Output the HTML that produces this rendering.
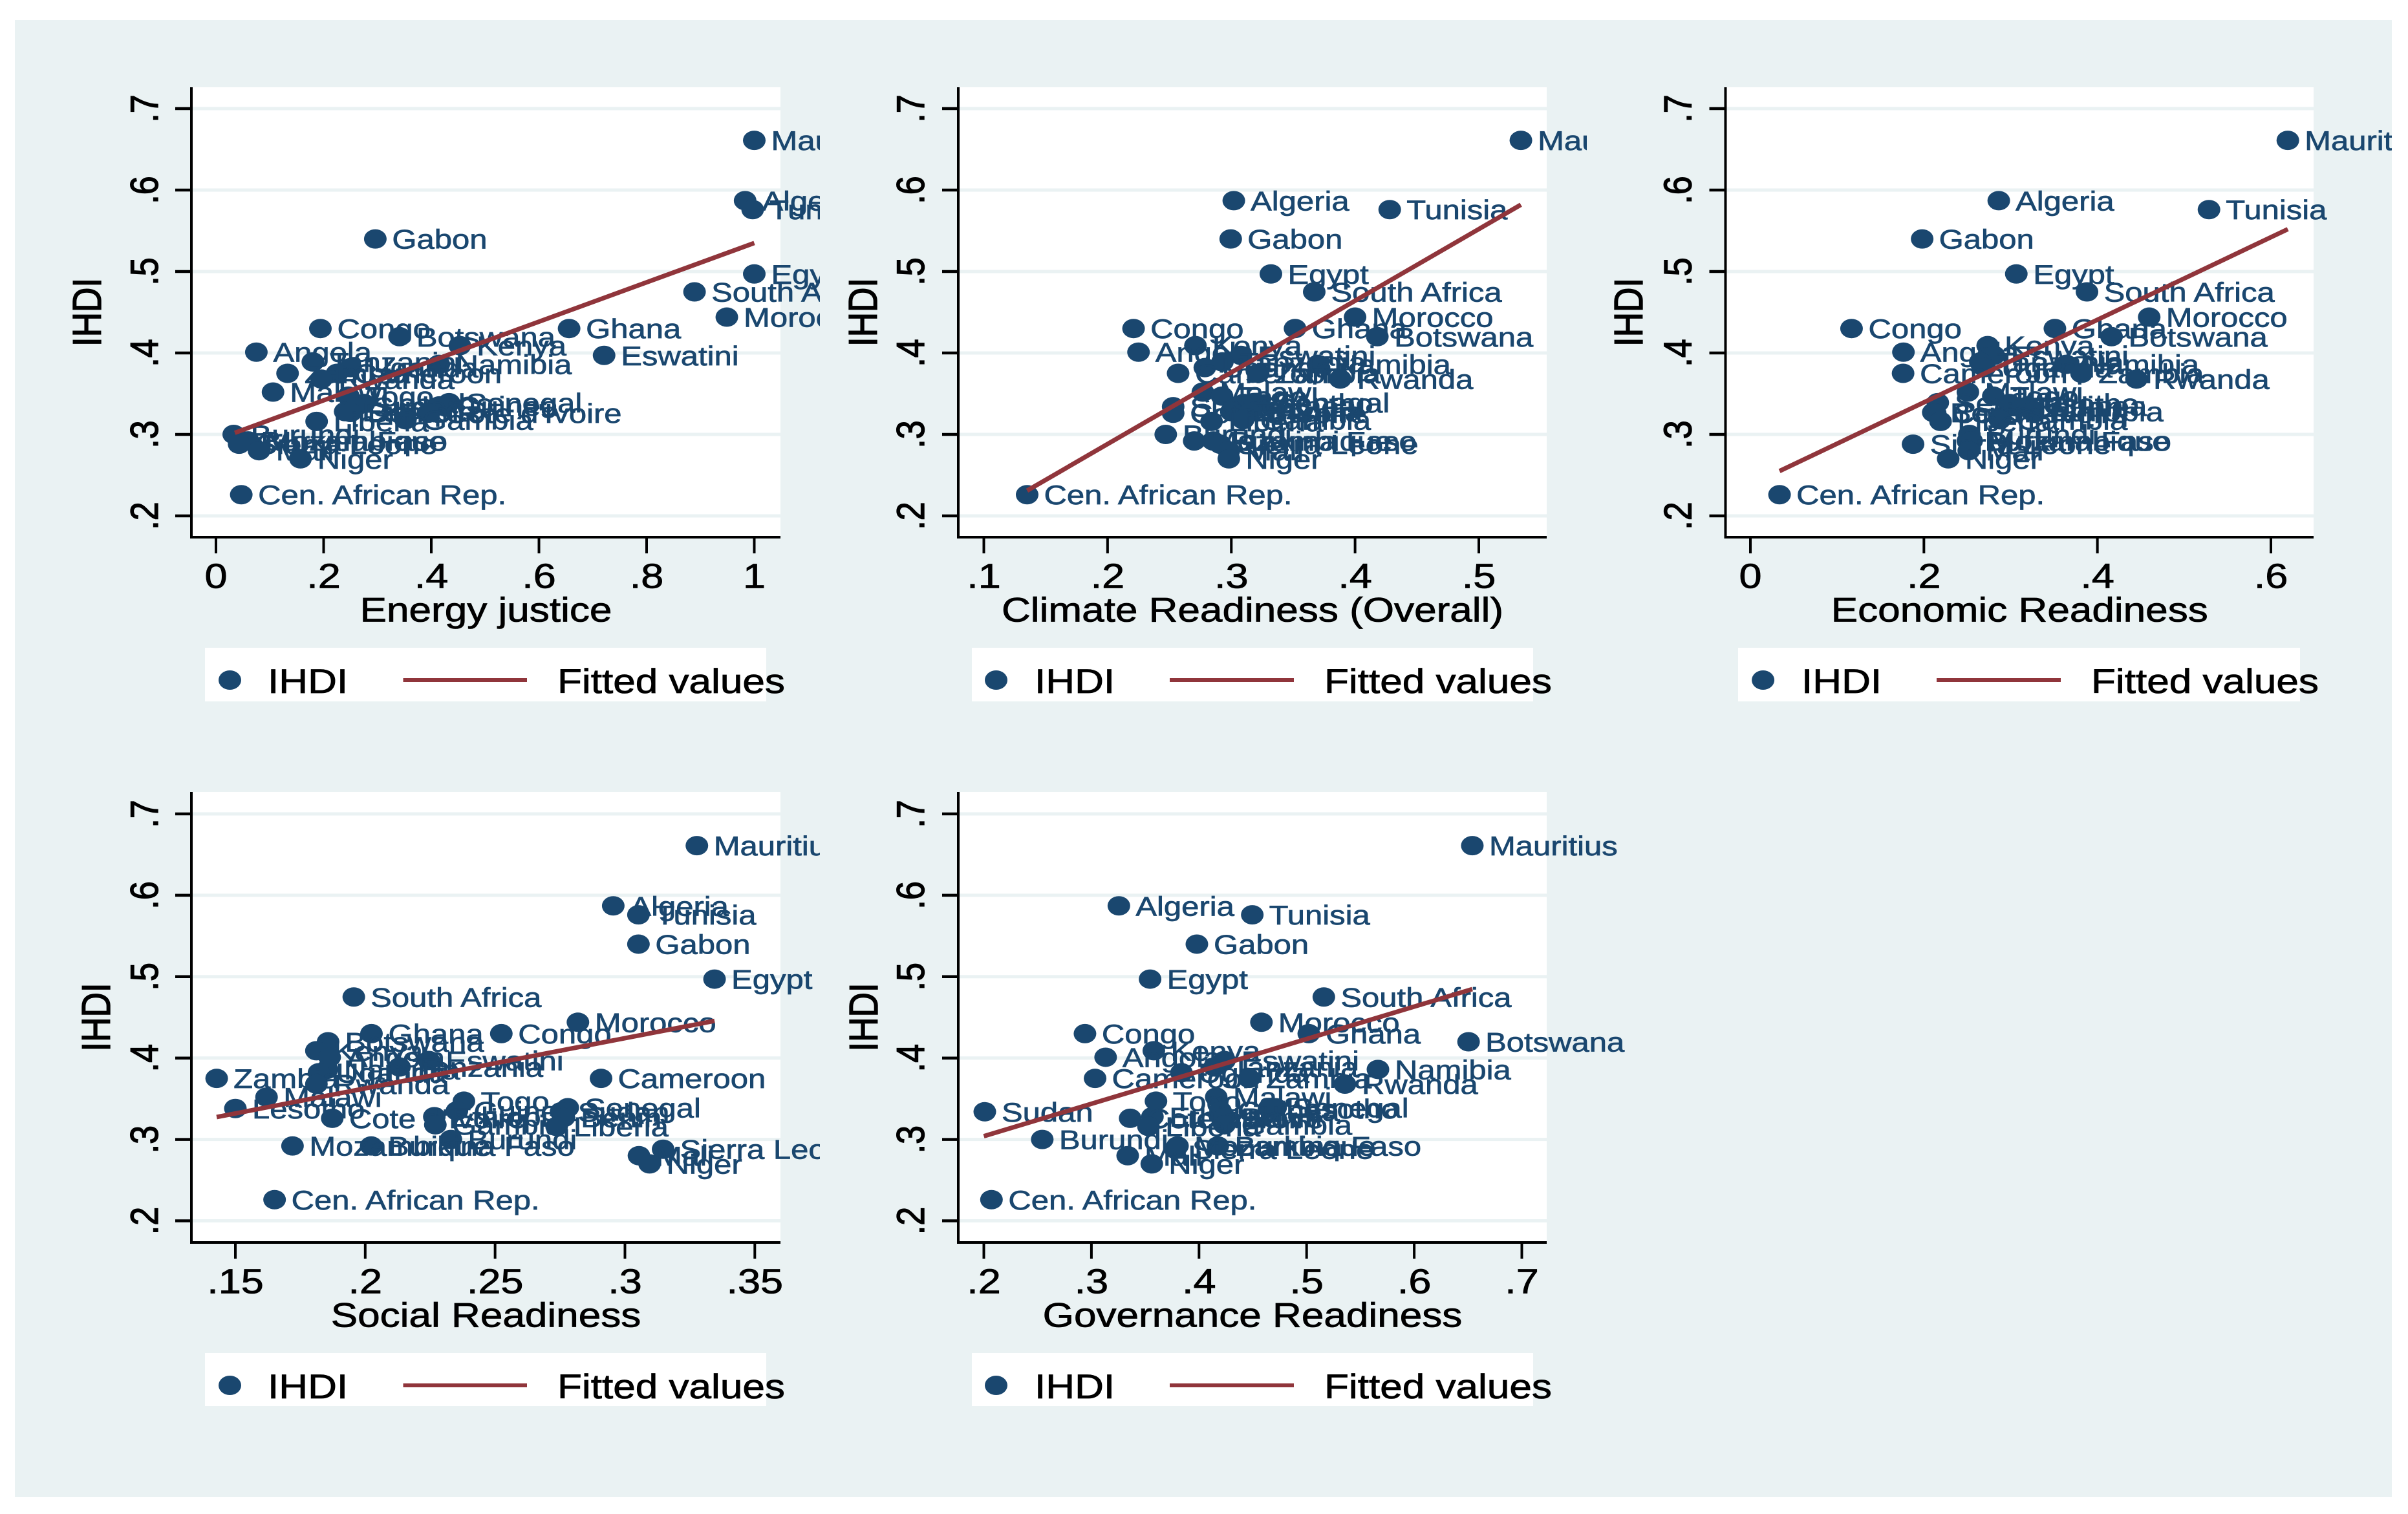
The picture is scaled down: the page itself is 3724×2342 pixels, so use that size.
<!DOCTYPE html>
<html lang="en">
<head>
<meta charset="utf-8">
<title>IHDI scatter panels</title>
<style>
html,body{margin:0;padding:0;background:#fff;}
#chart{display:block;width:3724px;height:2342px;}
text{font-family:"Liberation Sans",sans-serif;}
</style>
</head>
<body>
<svg id="chart" xmlns="http://www.w3.org/2000/svg" width="3724" height="2342" viewBox="0 0 3724 2342">
<rect x="0" y="0" width="3724" height="2342" fill="#ffffff"/>
<rect x="23" y="31" width="3676" height="2285" fill="#eaf2f3"/>
</svg>
<script>
const countries = ["Mauritius","Algeria","Tunisia","Gabon","Egypt","South Africa","Morocco","Ghana","Congo","Botswana","Kenya","Angola","Eswatini","Tanzania","Namibia","Uganda","Cameroon","Zambia","Rwanda","Malawi","Togo","Senegal","Lesotho","Guinea","Sudan","Ethiopia","Benin","Cote d'Ivoire","Gambia","Liberia","Burundi","Burkina Faso","Mozambique","Sierra Leone","Mali","Niger","Cen. African Rep."];
const ihdi = [.661,.587,.576,.54,.497,.475,.444,.43,.43,.42,.409,.401,.397,.389,.386,.382,.375,.375,.368,.352,.347,.339,.338,.335,.334,.328,.327,.326,.318,.316,.3,.292,.292,.288,.28,.27,.226];
const energyJustice = [1.0,.983,.997,.296,1.0,.889,.949,.656,.194,.341,.453,.075,.721,.18,.414,.25,.225,.133,.196,.106,.246,.433,.275,.415,.26,.24,.25,.394,.352,.187,.033,.052,.06,.043,.08,.157,.047];
const climateReadiness = [.534,.302,.428,.2995,.332,.367,.4,.3515,.221,.418,.271,.225,.3077,.2928,.37,.2786,.257,.3217,.388,.277,.2925,.3205,.31,.305,.253,.3,.315,.253,.3096,.284,.247,.2853,.27,.291,.298,.298,.135];
const economicReadiness = [.6195,.2863,.5286,.198,.3065,.388,.4597,.351,.1166,.4163,.2735,.1764,.2807,.265,.364,.27,.176,.3817,.445,.2507,.28,.216,.2984,.32,.305,.3248,.2108,.213,.2875,.2192,.2524,.2507,.255,.1875,.2517,.228,.0336];
const socialReadiness = [.3277,.2955,.3052,.3052,.3345,.1956,.2819,.2024,.2524,.1857,.1812,.1863,.2245,.2132,.1853,.1822,.2908,.1428,.1812,.162,.238,.278,.15,.2353,.2754,.2266,.2765,.1873,.227,.2737,.233,.2023,.172,.3147,.3054,.3095,.1651];
const governanceReadiness = [.654,.3255,.4495,.398,.3545,.516,.458,.502,.294,.6505,.358,.3132,.4236,.4144,.5663,.3837,.3034,.4466,.5356,.416,.36,.4712,.465,.42,.2009,.3567,.4236,.336,.4236,.353,.2543,.4175,.38,.378,.3337,.3561,.2071];

const fitEnergyX = [.035,1.0];
const fitEnergyY = [.302,.535];
const fitClimateX = [.135,.534];
const fitClimateY = [.231,.582];
const fitEconomicX = [.0336,.6195];
const fitEconomicY = [.255,.552];
const fitSocialX = [.1428,.3345];
const fitSocialY = [.3275,.4457];
const fitGovernanceX = [.2,.654];
const fitGovernanceY = [.304,.4847];

const yTicks = [.2,.3,.4,.5,.6,.7];
const energyTicks = [0,.2,.4,.6,.8,1];
const climateTicks = [.1,.2,.3,.4,.5];
const economicTicks = [0,.2,.4,.6];
const socialTicks = [.15,.2,.25,.3,.35];
const governanceTicks = [.2,.3,.4,.5,.6,.7];

const svg = document.getElementById('chart');
const NS = 'http://www.w3.org/2000/svg';
const SX = 1.167;
const NAVY = '#1a476f';
const MAROON = '#90353b';
const GRID = '#eaf2f3';
const BLACK = '#000000';

function node(parent, tag, name, props) {
  const el = document.createElementNS(NS, tag);
  
  
  for (const k in props) el.setAttribute(k, props[k]);
  parent.appendChild(el);
  return el;
}
function label(parent, name, x, y, str, size, fill, anchor, rotated, weight) {
  const t = node(parent, 'text', name, {
    transform: 'translate(' + x + ' ' + y + ') scale(' + SX + ' 1)' + (rotated ? ' rotate(-90)' : ''),
    'font-size': size, fill: fill, 'text-anchor': anchor, stroke: fill, 'stroke-width': weight
  });
  t.textContent = str;
  return t;
}
function fmt(v) { return String(v).replace(/^0\./, '.'); }
function linear(d0, d1, r0, r1) { return v => r0 + (v - d0) * (r1 - r0) / (d1 - d0); }

function drawPanel(o) {
  const clipId = 'clip-' + o.id;
  const defs = node(svg, 'defs', o.id + '-defs', {});
  const cp = node(defs, 'clipPath', o.id + '-clip', { id: clipId });
  node(cp, 'rect', o.id + '-clip-rect', { x: o.left - 300, y: o.top - 130, width: o.clipRight - o.left + 300, height: 1080 });

  const g = node(svg, 'g', o.id + '-panel', { 'clip-path': 'url(#' + clipId + ')' });
  const sx = linear(o.xd0, o.xd1, o.xr0, o.xr1);
  const sy = linear(.2, .7, o.y02, o.y07);
  const bottom = o.axisY;

  node(g, 'rect', o.id + '-plot-region', { x: o.left, y: o.top, width: o.right - o.left, height: bottom - o.top, fill: '#ffffff' });

  yTicks.forEach(v => {
    const y = sy(v);
    node(g, 'rect', 'y-gridline', { x: o.left, y: y - 2.5, width: o.right - o.left, height: 5, fill: GRID });
    node(g, 'line', 'y-tick', { x1: o.left - 25, x2: o.left, y1: y, y2: y, stroke: BLACK, 'stroke-width': 4.5 });
    label(g, 'y-tick-label', o.yLabelX, y, fmt(v), 52, BLACK, 'middle', true, 1.2);
  });
  o.xTicks.forEach(v => {
    const x = sx(v);
    node(g, 'line', 'x-tick', { x1: x, x2: x, y1: bottom, y2: bottom + 25, stroke: BLACK, 'stroke-width': 4 });
    label(g, 'x-tick-label', x, bottom + 78.5, fmt(v), 54, BLACK, 'middle', false, 0.8);
  });

  node(g, 'line', 'y-axis-line', { x1: o.left, x2: o.left, y1: o.top, y2: bottom + 2, stroke: BLACK, 'stroke-width': 4 });
  node(g, 'line', 'x-axis-line', { x1: o.left - 2, x2: o.right, y1: bottom, y2: bottom, stroke: BLACK, 'stroke-width': 4 });

  label(g, 'x-axis-title', (o.left + o.right) / 2, bottom + 130.5, o.xTitle, 53.2, BLACK, 'middle', false, 0.8);
  label(g, 'y-axis-title', o.yTitleX, (o.top + bottom) / 2, 'IHDI', 53.2, BLACK, 'middle', true, 1.2);

  countries.forEach((c, i) => {
    const x = sx(o.xs[i]);
    const y = sy(ihdi[i]);
    node(g, 'ellipse', 'point-' + c.toLowerCase().replace(/[^a-z]+/g, '-'), { cx: x, cy: y, rx: 17.5, ry: 15, fill: NAVY });
    label(g, 'point-label', x + 26, y + 15, c, 42, NAVY, 'start', false, 0.7);
  });

  node(g, 'line', 'fitted-line', {
    x1: sx(o.fitX[0]), y1: sy(o.fitY[0]), x2: sx(o.fitX[1]), y2: sy(o.fitY[1]),
    stroke: MAROON, 'stroke-width': 7
  });

  const lg = node(g, 'g', 'legend', {});
  const cy = o.legendY;
  node(lg, 'rect', 'legend-box', { x: o.lgLeft, y: cy - 50, width: o.lgRight - o.lgLeft, height: 100, fill: '#ffffff' });
  node(lg, 'ellipse', 'legend-marker', { cx: o.lgMarker, cy: cy, rx: 17.5, ry: 15, fill: NAVY });
  label(lg, 'legend-ihdi-label', o.lgIhdi, cy + 20, 'IHDI', 53.2, BLACK, 'start', false, 0.8);
  node(lg, 'line', 'legend-line', { x1: o.lgLine0, x2: o.lgLine1, y1: cy, y2: cy, stroke: MAROON, 'stroke-width': 6 });
  label(lg, 'legend-fitted-label', o.lgFit, cy + 20, 'Fitted values', 53.2, BLACK, 'start', false, 0.8);
}

const topRow = { top: 135, axisY: 831, y02: 798, y07: 168, legendY: 1052 };
const botRow = { top: 1225, axisY: 1922, y02: 1888.5, y07: 1259, legendY: 2143 };
const colA = { left: 296, right: 1207, clipRight: 1268, yLabelX: 244, lgLeft: 317, lgRight: 1185, lgMarker: 355.5, lgIhdi: 414, lgLine0: 623.5, lgLine1: 815, lgFit: 862 };
const colB = { left: 1482, right: 2392, yLabelX: 1429, lgLeft: 1503, lgRight: 2371, lgMarker: 1540.5, lgIhdi: 1600, lgLine0: 1809, lgLine1: 2001, lgFit: 2048 };
const colC = { left: 2668.5, right: 3578, clipRight: 3699, yLabelX: 2615.5, lgLeft: 2688, lgRight: 3557, lgMarker: 2726.6, lgIhdi: 2786, lgLine0: 2995, lgLine1: 3187, lgFit: 3234 };

drawPanel(Object.assign({}, topRow, colA, { id: 'energy-justice', xTitle: 'Energy justice', yTitleX: 156, xs: energyJustice, fitX: fitEnergyX, fitY: fitEnergyY, xTicks: energyTicks, xd0: 0, xd1: 1, xr0: 334, xr1: 1166.5 }));
drawPanel(Object.assign({}, topRow, colB, { id: 'climate-readiness', clipRight: 2454, xTitle: 'Climate Readiness (Overall)', yTitleX: 1356, xs: climateReadiness, fitX: fitClimateX, fitY: fitClimateY, xTicks: climateTicks, xd0: .1, xd1: .5, xr0: 1521.5, xr1: 2287 }));
drawPanel(Object.assign({}, topRow, colC, { id: 'economic-readiness', xTitle: 'Economic Readiness', yTitleX: 2540, xs: economicReadiness, fitX: fitEconomicX, fitY: fitEconomicY, xTicks: economicTicks, xd0: 0, xd1: .6, xr0: 2707, xr1: 3512 }));
drawPanel(Object.assign({}, botRow, colA, { id: 'social-readiness', xTitle: 'Social Readiness', yTitleX: 170, xs: socialReadiness, fitX: fitSocialX, fitY: fitSocialY, xTicks: socialTicks, xd0: .15, xd1: .35, xr0: 364, xr1: 1167.3 }));
drawPanel(Object.assign({}, botRow, colB, { id: 'governance-readiness', clipRight: 3699, xTitle: 'Governance Readiness', yTitleX: 1357, xs: governanceReadiness, fitX: fitGovernanceX, fitY: fitGovernanceY, xTicks: governanceTicks, xd0: .2, xd1: .7, xr0: 1521.5, xr1: 2353.5 }));
</script>
</body>
</html>
